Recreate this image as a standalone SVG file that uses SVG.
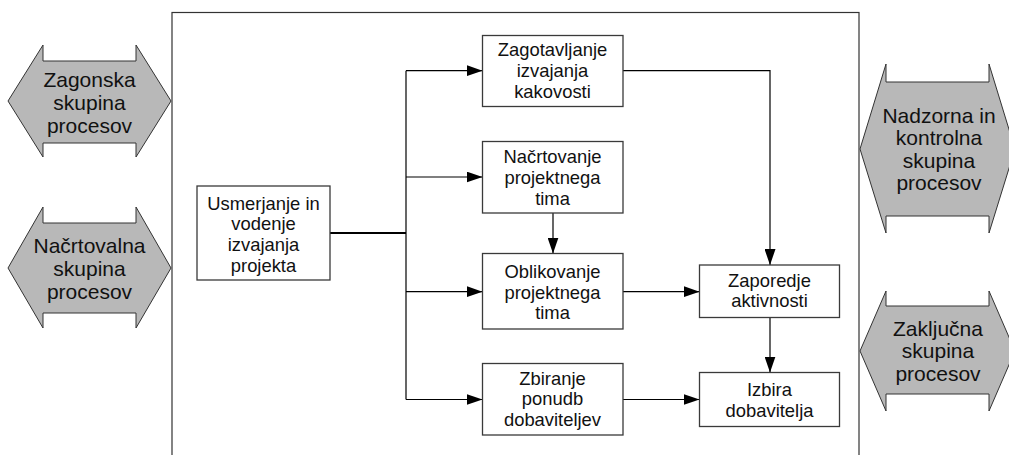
<svg xmlns="http://www.w3.org/2000/svg" width="1009" height="455" viewBox="0 0 1009 455">
  <defs>
    <marker id="ah" markerUnits="userSpaceOnUse" markerWidth="16" markerHeight="11" refX="16" refY="5.5" orient="auto">
      <path d="M0,0 L16,5.5 L0,11 Z" fill="#000"/>
    </marker>
    <style>
      .frame { fill: none; stroke: #333; stroke-width: 1.2; }
      .box { fill: #fff; stroke: #3a3a3a; stroke-width: 1.3; }
      .grp { fill: #b8b8b8; stroke: #333; stroke-width: 1; }
      .lbl { font-family: "Liberation Sans", Arial, sans-serif; font-size: 18.4px; fill: #111; text-anchor: middle; }
      .glbl { font-family: "Liberation Sans", Arial, sans-serif; font-size: 21px; fill: #111; text-anchor: middle; }
      .conn { fill: none; stroke: #000; stroke-width: 1.2; }
      .conn-main { fill: none; stroke: #000; stroke-width: 2; }
    </style>
  </defs>

  <rect width="1009" height="455" fill="#fff"/>

  <!-- project boundary -->
  <rect class="frame" x="172" y="12.5" width="687" height="470"/>

  <!-- process groups (double-headed arrows) -->
  <g id="grp-zagonska">
    <polygon class="grp" points="8,101 43,45 43,61 136,61 136,45 171,101 136,157 136,143 43,143 43,157"/>
    <text class="glbl" x="89.5" y="87">Zagonska</text>
    <text class="glbl" x="89.5" y="110">skupina</text>
    <text class="glbl" x="89.5" y="133">procesov</text>
  </g>
  <g id="grp-nacrtovalna">
    <polygon class="grp" points="8,268 43,207 43,223 136,223 136,207 171,268 136,328 136,313 43,313 43,328"/>
    <text class="glbl" x="89.5" y="253">Načrtovalna</text>
    <text class="glbl" x="89.5" y="276">skupina</text>
    <text class="glbl" x="89.5" y="299">procesov</text>
  </g>
  <g id="grp-nadzorna">
    <polygon class="grp" points="860,149 886,64 886,82 989,82 989,64 1015,149 989,233 989,216 886,216 886,233"/>
    <text class="glbl" x="939" y="123">Nadzorna in</text>
    <text class="glbl" x="939" y="145.3">kontrolna</text>
    <text class="glbl" x="939" y="167.6">skupina</text>
    <text class="glbl" x="939" y="189.9">procesov</text>
  </g>
  <g id="grp-zakljucna">
    <polygon class="grp" points="860,351 886,291 886,306 989,306 989,291 1015,351 989,411 989,394 886,394 886,411"/>
    <text class="glbl" x="938" y="336">Zaključna</text>
    <text class="glbl" x="938" y="358.4">skupina</text>
    <text class="glbl" x="938" y="380.8">procesov</text>
  </g>

  <!-- connectors -->
  <g id="connectors">
    <path class="conn-main" d="M330,233 H406"/>
    <path class="conn" d="M406,70.7 V399.5"/>
    <path class="conn" d="M406,70.7 H482.5" marker-end="url(#ah)"/>
    <path class="conn" d="M406,177 H482.5" marker-end="url(#ah)"/>
    <path class="conn" d="M406,291.7 H482.5" marker-end="url(#ah)"/>
    <path class="conn" d="M406,399.5 H482.5" marker-end="url(#ah)"/>
    <path class="conn" d="M623,70.7 H770 V265" marker-end="url(#ah)"/>
    <path class="conn" d="M553,213 V253.5" marker-end="url(#ah)"/>
    <path class="conn" d="M623,291.7 H699.5" marker-end="url(#ah)"/>
    <path class="conn" d="M770,317.5 V372.5" marker-end="url(#ah)"/>
    <path class="conn" d="M623,399.5 H699.5" marker-end="url(#ah)"/>
  </g>

  <!-- activities -->
  <g id="usmerjanje">
    <rect class="box" x="197" y="186" width="133" height="94"/>
    <text class="lbl" x="263.5" y="209.5">Usmerjanje in</text>
    <text class="lbl" x="263.5" y="230.3">vodenje</text>
    <text class="lbl" x="263.5" y="251.1">izvajanja</text>
    <text class="lbl" x="263.5" y="271.9">projekta</text>
  </g>
  <g id="zagotavljanje">
    <rect class="box" x="482.5" y="35.5" width="140.5" height="71"/>
    <text class="lbl" x="552.5" y="56">Zagotavljanje</text>
    <text class="lbl" x="552.5" y="76.8">izvajanja</text>
    <text class="lbl" x="552.5" y="97.6">kakovosti</text>
  </g>
  <g id="nacrtovanje">
    <rect class="box" x="482.5" y="141.5" width="140.5" height="71.5"/>
    <text class="lbl" x="552.5" y="163">Načrtovanje</text>
    <text class="lbl" x="552.5" y="183.8">projektnega</text>
    <text class="lbl" x="552.5" y="204.6">tima</text>
  </g>
  <g id="oblikovanje">
    <rect class="box" x="482.5" y="253.5" width="140.5" height="75.5"/>
    <text class="lbl" x="552.5" y="277.8">Oblikovanje</text>
    <text class="lbl" x="552.5" y="298.6">projektnega</text>
    <text class="lbl" x="552.5" y="319.4">tima</text>
  </g>
  <g id="zbiranje">
    <rect class="box" x="482.5" y="363.5" width="140.5" height="71.5"/>
    <text class="lbl" x="552.5" y="384.6">Zbiranje</text>
    <text class="lbl" x="552.5" y="405.4">ponudb</text>
    <text class="lbl" x="552.5" y="426.2">dobaviteljev</text>
  </g>
  <g id="zaporedje">
    <rect class="box" x="699.5" y="265" width="140" height="52.5"/>
    <text class="lbl" x="769.5" y="286.7">Zaporedje</text>
    <text class="lbl" x="769.5" y="307.3">aktivnosti</text>
  </g>
  <g id="izbira">
    <rect class="box" x="699.5" y="372.5" width="140" height="54"/>
    <text class="lbl" x="769.5" y="396.4">Izbira</text>
    <text class="lbl" x="769.5" y="417">dobavitelja</text>
  </g>
</svg>
